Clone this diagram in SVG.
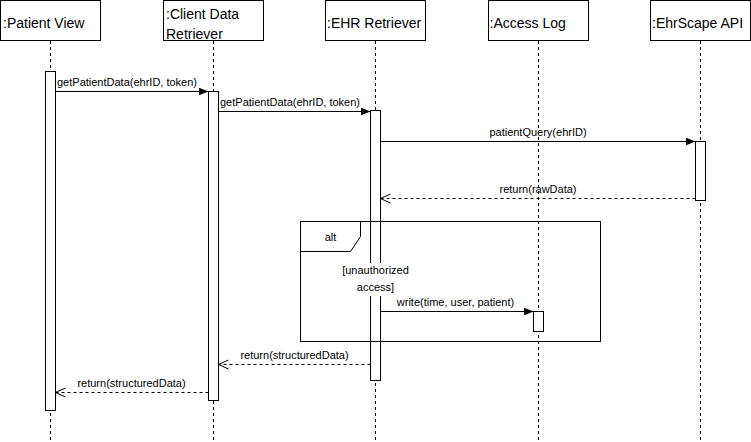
<svg xmlns="http://www.w3.org/2000/svg" width="751" height="442" viewBox="0 0 751 442">
  <defs>
    <marker id="block" viewBox="0 0 10 8" markerUnits="userSpaceOnUse" markerWidth="10" markerHeight="8" refX="10" refY="4" orient="auto">
      <path d="M0,0 L10,4 L0,8 Z" fill="#000"/>
    </marker>
    <marker id="open" viewBox="-1 -1 12 11" markerUnits="userSpaceOnUse" markerWidth="12" markerHeight="11" refX="10" refY="4.5" orient="auto">
      <path d="M0,0 L10,4.5 L0,9" fill="none" stroke="#000" stroke-width="1"/>
    </marker>
  </defs>
  <style>
    .head { fill: #fff; stroke: #000; stroke-width: 1; }
    .headtext { font-family: "Liberation Sans", Arial, Helvetica, sans-serif; font-size: 14px; fill: #000; }
    .life { stroke: #000; stroke-width: 1; stroke-dasharray: 3 3; fill: none; }
    .bar { fill: #fff; stroke: #000; stroke-width: 1; }
    .msg { stroke: #000; stroke-width: 1; fill: none; marker-end: url(#block); }
    .ret { stroke: #000; stroke-width: 1; fill: none; stroke-dasharray: 3 3; marker-end: url(#open); }
    .lbl { font-family: "Liberation Sans", Arial, Helvetica, sans-serif; font-size: 11px; fill: #000; }
    .frame { fill: none; stroke: #000; stroke-width: 1; }
  </style>

  <rect width="751" height="442" fill="#fff"/>

  <!-- lifelines -->
  <g id="lifelines">
    <line class="life" x1="50.5" y1="41" x2="50.5" y2="442"/>
    <line class="life" x1="213.5" y1="41" x2="213.5" y2="442"/>
    <line class="life" x1="375.5" y1="41" x2="375.5" y2="442"/>
    <line class="life" x1="538.5" y1="41" x2="538.5" y2="442"/>
    <line class="life" x1="700.5" y1="41" x2="700.5" y2="442"/>
  </g>

  <!-- participants -->
  <g id="patient-view">
    <rect class="head" x="0.5" y="0.5" width="100" height="40"/>
    <text class="headtext" x="3" y="28">:Patient View</text>
  </g>
  <g id="client-data-retriever">
    <rect class="head" x="163.5" y="0.5" width="100" height="40"/>
    <text class="headtext" x="166" y="19">:Client Data</text>
    <text class="headtext" x="166" y="38.5">Retriever</text>
  </g>
  <g id="ehr-retriever">
    <rect class="head" x="325.5" y="0.5" width="100" height="40"/>
    <text class="headtext" x="327" y="28">:EHR Retriever</text>
  </g>
  <g id="access-log">
    <rect class="head" x="488.5" y="0.5" width="100" height="40"/>
    <text class="headtext" x="489.5" y="28">:Access Log</text>
  </g>
  <g id="ehrscape-api">
    <rect class="head" x="650.5" y="0.5" width="100" height="40"/>
    <text class="headtext" x="652" y="28">:EhrScape API</text>
  </g>

  <!-- activation bars -->
  <g id="activations">
    <rect class="bar" x="45.5" y="71.5" width="10" height="339"/>
    <rect class="bar" x="208.5" y="91.5" width="10" height="309"/>
    <rect class="bar" x="370.5" y="110.5" width="10" height="270"/>
    <rect class="bar" x="695.5" y="141.5" width="10" height="59"/>
    <rect class="bar" x="533.5" y="311.5" width="10" height="20"/>
  </g>

  <!-- alt combined fragment -->
  <g id="alt-fragment">
    <rect class="frame" x="300.5" y="221.5" width="300" height="120"/>
    <path class="frame" d="M300.5,251.5 L350.5,251.5 L360.5,236.5 L360.5,221.5"/>
    <text class="lbl" x="330.5" y="241" text-anchor="middle">alt</text>
    <rect x="341" y="263" width="69" height="33" fill="#fff"/>
    <text class="lbl" x="375.5" y="274" text-anchor="middle">[unauthorized</text>
    <text class="lbl" x="375.5" y="290.5" text-anchor="middle">access]</text>
  </g>

  <!-- messages -->
  <g id="connectors">
    <line class="msg" x1="55.5" y1="91.5" x2="208.5" y2="91.5"/>
    <text class="lbl" x="57" y="85.5">getPatientData(ehrID, token)</text>

    <line class="msg" x1="218.5" y1="111.5" x2="370.5" y2="111.5"/>
    <text class="lbl" x="220" y="105.5">getPatientData(ehrID, token)</text>

    <line class="msg" x1="380.5" y1="141.5" x2="695.5" y2="141.5"/>
    <text class="lbl" x="538" y="136" text-anchor="middle">patientQuery(ehrID)</text>

    <line class="ret" x1="695.5" y1="198.5" x2="380.5" y2="198.5"/>
    <text class="lbl" x="538" y="192.5" text-anchor="middle">return(rawData)</text>

    <line class="msg" x1="380.5" y1="311.5" x2="533.5" y2="311.5"/>
    <text class="lbl" x="455.5" y="305.5" text-anchor="middle">write(time, user, patient)</text>

    <line class="ret" x1="370.5" y1="364.5" x2="218.5" y2="364.5"/>
    <text class="lbl" x="294.5" y="358.5" text-anchor="middle">return(structuredData)</text>

    <line class="ret" x1="208.5" y1="392.5" x2="55.5" y2="392.5"/>
    <text class="lbl" x="131.5" y="386.5" text-anchor="middle">return(structuredData)</text>
  </g>
</svg>
